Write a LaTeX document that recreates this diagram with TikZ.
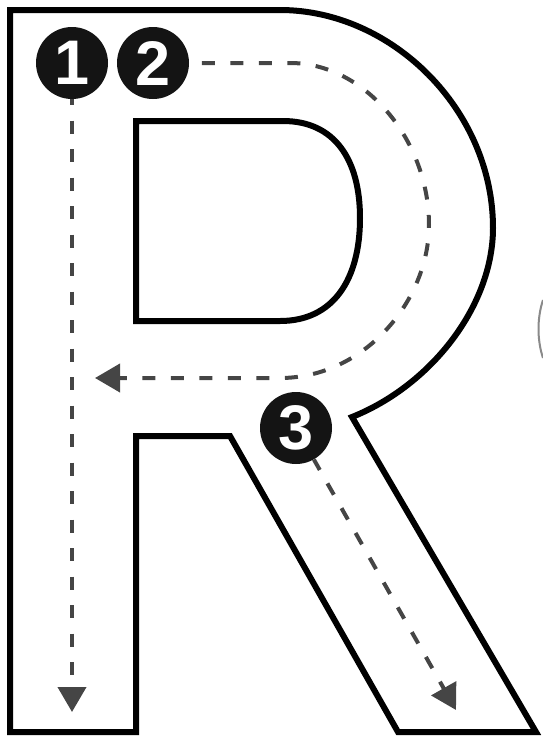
\documentclass[tikz,border=0pt]{standalone}
\usepackage{fontspec}
\setmainfont{Liberation Sans}
\usetikzlibrary{arrows.meta}
\definecolor{dashgray}{HTML}{454545}
\definecolor{badgeblack}{HTML}{141414}
\definecolor{faintgray}{HTML}{8A8A8A}
\begin{document}
\begin{tikzpicture}[x=1pt,y=-1pt,
  outline/.style={line width=6pt, line join=miter, black},
  guide/.style={line width=4pt, draw=dashgray, dash pattern=on 13pt off 15.5pt},
  tipend/.style={-{Triangle[length=25pt,width=28pt]}},
  badge/.style={circle, fill=badgeblack, minimum size=72pt, inner sep=0pt,
    text=white, font=\fontsize{63}{63}\selectfont\bfseries}]
\useasboundingbox (0,0) rectangle (542,740);
% letter R outline
\draw[outline] (10,10) -- (280,10)
  .. controls (392,10) and (493,110) .. (493,228)
  .. controls (493,305) and (432,385) .. (352,417)
  -- (536,732) -- (398,732) -- (230,436) -- (136,436)
  -- (136,732) -- (10,732) -- cycle;
\draw[outline] (136,121) -- (283,121)
  .. controls (335,121) and (360,160) .. (360,218)
  .. controls (360,280) and (333,321) .. (280,321)
  -- (136,321) -- cycle;
% partial next letter at the right edge
\draw[faintgray, line width=2pt] (543,300) .. controls (537,318) and (537,340) .. (543,358);
% badges
\node[badge] (n1) at (72,63) {1};
\node[badge] (n2) at (153,63) {2};
\node[badge] (n3) at (296,428) {3};
% end points
\coordinate (e1) at (72,712);
\coordinate (e2) at (95,378);
\coordinate (e3) at (456,710);
% stroke paths
\draw[guide, tipend, dash phase=7pt] (n1.south) -- (e1);
\draw[guide, tipend, dash phase=15.8pt] (n2.east) -- (290,63)
  .. controls (365,63) and (429,140) .. (429,225)
  .. controls (429,300) and (365,378) .. (280,378) -- (e2);
\draw[guide, tipend, dash phase=1pt] (n3) -- (e3);
\end{tikzpicture}
\end{document}
